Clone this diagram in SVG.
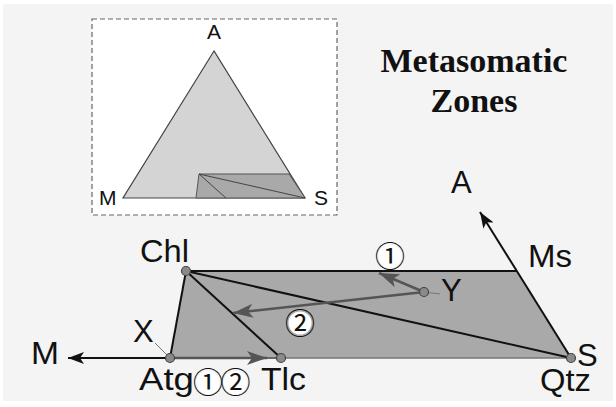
<svg xmlns="http://www.w3.org/2000/svg" width="616" height="407" viewBox="0 0 616 407">
<style>
.lbl{font-family:"Liberation Sans",Arial,sans-serif;font-size:31px;fill:#111}
.ilbl{font-family:"Liberation Sans",Arial,sans-serif;font-size:21px;fill:#111}
.circ{font-family:"Noto Sans CJK JP","DejaVu Sans",sans-serif;font-size:30px;fill:#111}
.title{font-family:"Liberation Serif","Times New Roman",serif;font-size:34px;font-weight:bold;fill:#111}
.blk{stroke:#111;stroke-width:2;fill:none}
.gry{stroke:#555;stroke-width:2.5;fill:none}
.pt{fill:#8a8a8a;stroke:#444;stroke-width:1.2}
</style>
<defs>
<marker id="ab" markerUnits="userSpaceOnUse" viewBox="0 0 16 12" markerWidth="16" markerHeight="12" refX="16" refY="6" orient="auto">
<path d="M0,0 L16,6 L0,12 L4,6 z" fill="#111"/>
</marker>
<marker id="ag" markerUnits="userSpaceOnUse" viewBox="0 0 20 14" markerWidth="20" markerHeight="14" refX="20" refY="7" orient="auto">
<path d="M0,0 L20,7 L0,14 L5,7 z" fill="#555"/>
</marker>
</defs>
<rect x="0" y="0" width="616" height="407" fill="#ffffff"/>
<rect x="3" y="4" width="610" height="397" fill="#f4f4f4"/>

<g id="inset">
<rect x="92" y="19" width="245" height="196" fill="#ffffff" stroke="#666" stroke-width="1.2" stroke-dasharray="5,3"/>
<polygon points="214,51 123,198 305,198" fill="#d4d4d4" stroke="#444" stroke-width="1.2"/>
<polygon points="199,174 289,174 305,198 196,198" fill="#a9a9a9" stroke="#555" stroke-width="1"/>
<line x1="199" y1="174" x2="305" y2="198" stroke="#444" stroke-width="1"/>
<line x1="199" y1="174" x2="226" y2="198" stroke="#444" stroke-width="1"/>
<text class="ilbl" x="214" y="39" text-anchor="middle">A</text>
<text class="ilbl" x="99" y="205">M</text>
<text class="ilbl" x="314" y="205">S</text>
</g>

<g id="title">
<text class="title" x="474" y="72" text-anchor="middle">Metasomatic</text>
<text class="title" x="474" y="112" text-anchor="middle">Zones</text>
</g>

<g id="region">
<polygon points="186,271 517,271 571,358 170,358" fill="#a9a9a9"/>
</g>

<g id="connectors">
<line x1="170" y1="358" x2="186" y2="271" class="blk"/>
<line x1="186" y1="271" x2="517" y2="271" class="blk"/>
<line x1="281" y1="358" x2="571" y2="358" stroke="#777" stroke-width="1.5"/>
<line x1="186" y1="271" x2="281" y2="358" class="blk"/>
<line x1="186" y1="271" x2="571" y2="358" class="blk"/>
<line x1="571" y1="358" x2="480" y2="212" class="blk" marker-end="url(#ab)"/>
<line x1="170" y1="358" x2="68" y2="358" class="blk" marker-end="url(#ab)"/>
<line x1="170" y1="358" x2="281" y2="358" stroke="#666" stroke-width="2"/>
<line x1="170" y1="358" x2="267" y2="358" class="gry" marker-end="url(#ag)"/>
<line x1="424" y1="292" x2="233" y2="313" class="gry" marker-end="url(#ag)"/>
<line x1="424" y1="292" x2="379" y2="273" class="gry" marker-end="url(#ag)"/>
<line x1="424" y1="292" x2="440" y2="294" stroke="#777" stroke-width="1"/>
<line x1="155" y1="343" x2="170" y2="358" stroke="#777" stroke-width="1"/>
</g>

<g id="node-chl">
<circle class="pt" cx="186" cy="271" r="4.5"/>
<text class="lbl" x="140" y="262" textLength="49" lengthAdjust="spacingAndGlyphs">Chl</text>
</g>
<g id="node-atg">
<circle class="pt" cx="170" cy="358" r="4.5"/>
<text class="lbl" x="139" y="390" textLength="55" lengthAdjust="spacingAndGlyphs">Atg</text>
<circle cx="208" cy="382.5" r="11.5" fill="#fff"/>
<circle cx="235.5" cy="382.5" r="11.5" fill="#fff"/>
<text class="circ" x="193" y="393" letter-spacing="-2.5">①②</text>
</g>
<g id="node-tlc">
<circle class="pt" cx="281" cy="358" r="4.5"/>
<text class="lbl" x="261" y="390" textLength="45" lengthAdjust="spacingAndGlyphs">Tlc</text>
</g>
<g id="node-s">
<circle class="pt" cx="571" cy="358" r="4.5"/>
<text class="lbl" x="577" y="366">S</text>
<text class="lbl" x="540" y="391" textLength="51" lengthAdjust="spacingAndGlyphs">Qtz</text>
</g>
<g id="node-ms">
<text class="lbl" x="528" y="267" textLength="44" lengthAdjust="spacingAndGlyphs">Ms</text>
</g>
<g id="node-y">
<circle class="pt" cx="424" cy="292" r="4.5" fill="#999"/>
<text class="lbl" x="441" y="301">Y</text>
</g>
<g id="node-x">
<text class="lbl" x="133" y="342">X</text>
</g>
<g id="node-m">
<text class="lbl" x="31" y="364" textLength="28" lengthAdjust="spacingAndGlyphs">M</text>
</g>
<g id="node-a">
<text class="lbl" x="451" y="193">A</text>
</g>
<g id="label-1">
<circle cx="390" cy="256" r="11.5" fill="#fff"/>
<text class="circ" x="390" y="266.5" text-anchor="middle">①</text>
</g>
<g id="label-2">
<circle cx="300" cy="323" r="11.5" fill="#fff"/>
<text class="circ" x="300" y="333.5" text-anchor="middle">②</text>
</g>
</svg>
